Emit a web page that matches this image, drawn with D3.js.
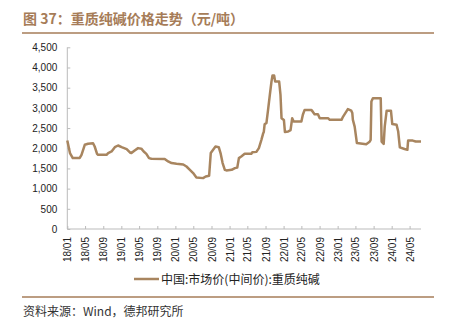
<!DOCTYPE html>
<html><head><meta charset="utf-8">
<script src="https://cdn.jsdelivr.net/npm/d3@7"></script>
<style>
html,body{margin:0;padding:0;background:#fff;}
svg{display:block;}
</style></head>
<body>
<script>
const dates = ["2018-01-01","2018-01-19","2018-02-07","2018-03-26","2018-04-07","2018-04-29","2018-05-21","2018-06-24","2018-07-05","2018-07-21","2018-07-28","2018-09-23","2018-10-04","2018-10-27","2018-11-18","2018-12-10","2019-01-03","2019-02-06","2019-02-28","2019-03-10","2019-04-01","2019-04-24","2019-05-16","2019-06-01","2019-06-19","2019-07-07","2019-07-23","2019-10-21","2019-11-13","2019-12-06","2020-01-09","2020-02-23","2020-03-16","2020-04-08","2020-04-30","2020-05-22","2020-07-06","2020-07-24","2020-08-16","2020-08-27","2020-09-12","2020-09-28","2020-10-20","2020-11-01","2020-11-15","2020-11-30","2020-12-11","2021-01-15","2021-02-06","2021-02-22","2021-03-05","2021-03-21","2021-04-13","2021-05-28","2021-06-04","2021-07-01","2021-07-18","2021-08-04","2021-08-15","2021-08-20","2021-08-26","2021-09-07","2021-09-18","2021-09-30","2021-10-11","2021-10-18","2021-10-29","2021-11-05","2021-12-02","2021-12-11","2021-12-18","2022-01-03","2022-01-10","2022-02-01","2022-02-17","2022-02-28","2022-03-10","2022-05-01","2022-05-11","2022-05-23","2022-07-07","2022-07-18","2022-07-29","2022-08-21","2022-09-02","2022-10-28","2022-11-09","2023-01-27","2023-02-07","2023-03-11","2023-04-03","2023-04-10","2023-04-14","2023-04-26","2023-05-11","2023-07-13","2023-08-05","2023-08-12","2023-08-17","2023-08-27","2023-10-19","2023-10-25","2023-11-08","2023-11-15","2023-11-28","2023-12-27","2024-01-05","2024-02-03","2024-02-14","2024-02-25","2024-03-28","2024-04-16","2024-04-21","2024-05-22","2024-06-11","2024-07-17"];
const prices = [2190,1880,1756,1760,1837,2085,2110,2125,2043,1862,1837,1837,1880,1920,2027,2068,2027,1978,1895,1880,1944,2003,1990,1920,1862,1756,1740,1735,1672,1632,1615,1598,1548,1466,1385,1276,1260,1300,1318,1880,1961,2043,2027,1880,1632,1466,1450,1466,1508,1520,1756,1796,1862,1862,1900,1910,2003,2208,2357,2400,2600,2620,2950,3320,3650,3800,3800,3650,3650,3320,2745,2700,2400,2414,2450,2745,2660,2660,2830,2950,2950,2900,2843,2843,2745,2745,2703,2703,2785,2970,2930,2870,2703,2537,2127,2100,2160,2208,3157,3240,3240,2166,2110,2537,2930,2930,2600,2580,2414,2020,1980,1961,2190,2190,2166,2166];
const yTicks = [0,500,1000,1500,2000,2500,3000,3500,4000,4500];
const seriesName = "中国:市场价(中间价):重质纯碱";
const title = "图 37：重质纯碱价格走势（元/吨）";
const source = "资料来源：Wind，德邦研究所";

const W = 454, H = 326;
const brown = "#a67c58";
const lineColor = "#a8855f";
const parse = d3.timeParse("%Y-%m-%d");
const data = dates.map((d,i)=>({date:parse(d), v:prices[i]}));

const svg = d3.select("body").append("svg").attr("width",W).attr("height",H);
const cjk = "'Noto Sans CJK SC', 'Noto Sans', sans-serif";
const latin = "'Liberation Sans', Arial, sans-serif";

// title
svg.append("text").attr("x",23).attr("y",24).attr("fill",brown)
  .attr("font-family",cjk).attr("font-size",14).attr("font-weight","bold").text(title);
svg.append("line").attr("x1",22).attr("x2",434).attr("y1",33).attr("y2",33)
  .attr("stroke",brown).attr("stroke-width",1.5);

const x = d3.scaleTime().domain([parse("2018-01-01"), parse("2024-07-17")]).range([67.3,421]);
const y = d3.scaleLinear().domain([0,4500]).range([229,47.3]);

// y axis
const yAxis = d3.axisRight(y).tickValues(yTicks).tickSize(3).tickFormat(d3.format(","));
const gy = svg.append("g").attr("transform","translate(67.3,0)").call(yAxis);
gy.select(".domain").attr("stroke","#bbb").attr("d","M0,47.3V229");
gy.selectAll(".tick line").attr("stroke","#bbb");
gy.selectAll(".tick text").attr("x",-10).attr("text-anchor","end")
  .attr("font-family",latin).attr("font-size",10).attr("fill","#222");

// x axis
const xTicks = d3.timeMonth.range(parse("2018-01-01"), parse("2024-06-01"), 4);
const xAxis = d3.axisTop(x).tickValues(xTicks).tickSize(3).tickFormat(d3.timeFormat("%y/%m"));
const gx = svg.append("g").attr("transform","translate(0,229)").call(xAxis);
gx.select(".domain").attr("stroke","#bbb").attr("d","M67.3,0H421");
gx.selectAll(".tick line").attr("stroke","#bbb");
gx.selectAll(".tick text")
  .attr("transform","rotate(-90)")
  .attr("x",-8).attr("y",3.5).attr("dy",0)
  .attr("text-anchor","end")
  .attr("font-family",latin).attr("font-size",10).attr("fill","#222");

// line
const line = d3.line().x(d=>x(d.date)).y(d=>y(d.v));
svg.append("path").datum(data).attr("d",line).attr("fill","none")
  .attr("stroke",lineColor).attr("stroke-width",2.5).attr("stroke-linejoin","round");

// legend
svg.append("line").attr("x1",134).attr("x2",159).attr("y1",279).attr("y2",279)
  .attr("stroke",lineColor).attr("stroke-width",2.5);
svg.append("text").attr("x",161).attr("y",283.5).attr("font-family",cjk)
  .attr("font-size",12).attr("fill","#222").text(seriesName);

// bottom rule & source
svg.append("line").attr("x1",22).attr("x2",434).attr("y1",297).attr("y2",297)
  .attr("stroke",brown).attr("stroke-width",1.5);
svg.append("text").attr("x",23).attr("y",316).attr("font-family",cjk)
  .attr("font-size",12).attr("fill","#333").text(source);
</script>
</body></html>
